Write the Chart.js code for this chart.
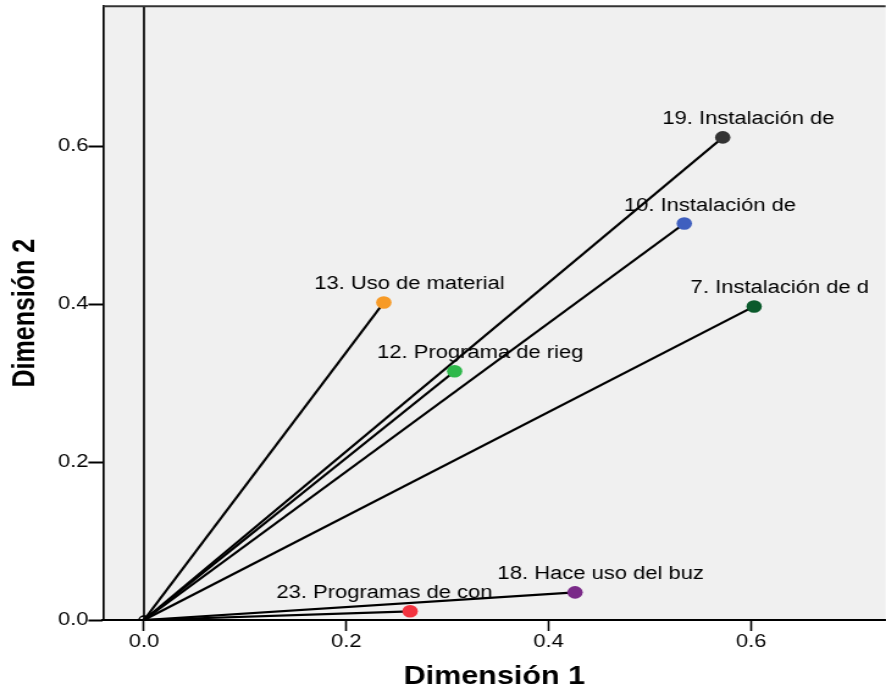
<!DOCTYPE html>
<html>
<head>
<meta charset="utf-8">
<title>Dimensión 1 / Dimensión 2</title>
<style>
  html, body { margin: 0; padding: 0; background: #fff; overflow: hidden; }
  #wrap { width: 886px; height: 695px; overflow: hidden; }
  /* the plot is drawn narrow and stretched sideways, like the exported SPSS image */
  #biplot { display: block; transform: scaleX(1.2204); transform-origin: 0 0; }
</style>
</head>
<body>
<div id="wrap">
  <canvas id="biplot" width="732" height="695" style="width:732px;height:695px"></canvas>
</div>

<script src="https://cdn.jsdelivr.net/npm/chart.js@4/dist/chart.umd.min.js"></script>
<script>
// item vectors (component loadings)
const items = ['19. Instalación de', '10. Instalación de', '7. Instalación de d', '13. Uso de material',
               '12. Programa de rieg', '18. Hace uso del buz', '23. Programas de con'];
const dim1 = [0.572, 0.534, 0.603, 0.237, 0.307, 0.426, 0.263];
const dim2 = [0.611, 0.502, 0.397, 0.402, 0.315, 0.035, 0.011];
const xTicks = [0.0, 0.2, 0.4, 0.6];
const yTicks = [0.0, 0.2, 0.4, 0.6];

const dotColors = ['#333333', '#3f5fbf', '#0b5a2c', '#f79a26', '#2fb84b', '#7a2a88', '#f2333f'];
const labelShift = [21, 21, 21, 21, 21, 21, -21];

const FONT = '"Liberation Sans", Arial, Helvetica, sans-serif';
Chart.defaults.font.family = FONT;
Chart.defaults.color = '#000';

// one black segment per item, from the origin to its end point
const vectorSets = items.map((name, i) => ({
  label: name,
  data: [{ x: 0, y: 0 }, { x: dim1[i], y: dim2[i] }],
  showLine: true,
  borderColor: '#000',
  borderWidth: 2.2,
  pointRadius: 0,
  order: 2
}));

const endPoints = {
  label: 'puntos',
  data: items.map((n, i) => ({ x: dim1[i], y: dim2[i] })),
  showLine: false,
  pointRadius: 6.3,
  pointBorderWidth: 0,
  pointBackgroundColor: dotColors,
  order: 0
};

const originMark = {
  label: 'origen',
  data: [{ x: 0, y: 0 }],
  pointRadius: 4,
  pointBorderWidth: 1.5,
  pointBorderColor: '#000',
  pointBackgroundColor: 'rgba(0,0,0,0)',
  order: 1
};

// grey plot area, top frame and the vertical line through x = 0
const frame = {
  id: 'frame',
  beforeDraw(chart) {
    const { ctx, chartArea: a } = chart;
    ctx.save();
    ctx.fillStyle = '#f0f0f0';
    ctx.fillRect(a.left, a.top, a.right - a.left, a.bottom - a.top);
    ctx.restore();
  },
  beforeDatasetsDraw(chart) {
    const { ctx, chartArea: a, scales } = chart;
    const x0 = scales.x.getPixelForValue(0);
    ctx.save();
    ctx.strokeStyle = '#111';
    ctx.lineWidth = 1.8;
    ctx.beginPath();
    ctx.moveTo(x0, a.top);
    ctx.lineTo(x0, a.bottom);
    ctx.stroke();
    ctx.strokeStyle = '#333';
    ctx.lineWidth = 2;
    ctx.beginPath();
    ctx.moveTo(a.left, a.top);
    ctx.lineTo(a.right, a.top);
    ctx.stroke();
    ctx.restore();
  }
};

// item names written above each end point
const itemLabels = {
  id: 'itemLabels',
  afterDatasetsDraw(chart) {
    const { ctx } = chart;
    const meta = chart.getDatasetMeta(chart.data.datasets.indexOf(endPoints));
    ctx.save();
    ctx.font = '18px ' + FONT;
    ctx.fillStyle = '#000';
    ctx.textAlign = 'center';
    ctx.textBaseline = 'alphabetic';
    meta.data.forEach((pt, i) => {
      ctx.fillText(items[i], pt.x + labelShift[i], pt.y - 13);
    });
    ctx.restore();
  }
};

new Chart(document.getElementById('biplot'), {
  type: 'scatter',
  data: { datasets: [...vectorSets, originMark, endPoints] },
  options: {
    responsive: false,
    animation: false,
    events: [],
    layout: { padding: { top: 6, right: 0, bottom: 0, left: 0 } },
    plugins: { legend: { display: false }, tooltip: { enabled: false } },
    scales: {
      x: {
        type: 'linear',
        min: -0.0405,
        max: 0.733,
        afterBuildTicks: s => { s.ticks = xTicks.map(v => ({ value: v })); },
        afterFit: s => { s.height = 75; s.paddingLeft = 0; s.paddingRight = 0; },
        ticks: {
          font: { size: 18 },
          color: '#000',
          padding: 0,
          maxRotation: 0,
          autoSkip: false,
          callback: v => Number(v).toFixed(1)
        },
        grid: { drawOnChartArea: false, drawTicks: true, tickLength: 11, tickWidth: 1.6, tickColor: '#000' },
        border: { display: true, color: '#000', width: 2 },
        title: {
          display: true,
          text: 'Dimensión 1',
          color: '#000',
          font: { size: 25, weight: 'bold' },
          padding: { top: 0, bottom: 3 }
        }
      },
      y: {
        type: 'linear',
        min: 0,
        max: 0.777,
        afterBuildTicks: s => { s.ticks = yTicks.map(v => ({ value: v })); },
        afterFit: s => { s.width = 84.4; s.paddingTop = 0; s.paddingBottom = 0; },
        ticks: {
          font: { size: 18 },
          color: '#000',
          padding: 0,
          autoSkip: false,
          callback: v => Number(v).toFixed(1)
        },
        grid: { drawOnChartArea: false, drawTicks: true, tickLength: 12, tickWidth: 2, tickColor: '#000' },
        border: { display: true, color: '#000', width: 1.7 },
        title: {
          display: true,
          text: 'Dimensión 2',
          color: '#000',
          font: { size: 25, weight: 'bold' },
          padding: { top: 6, bottom: 0 }
        }
      }
    }
  },
  plugins: [frame, itemLabels]
});
</script>
</body>
</html>
